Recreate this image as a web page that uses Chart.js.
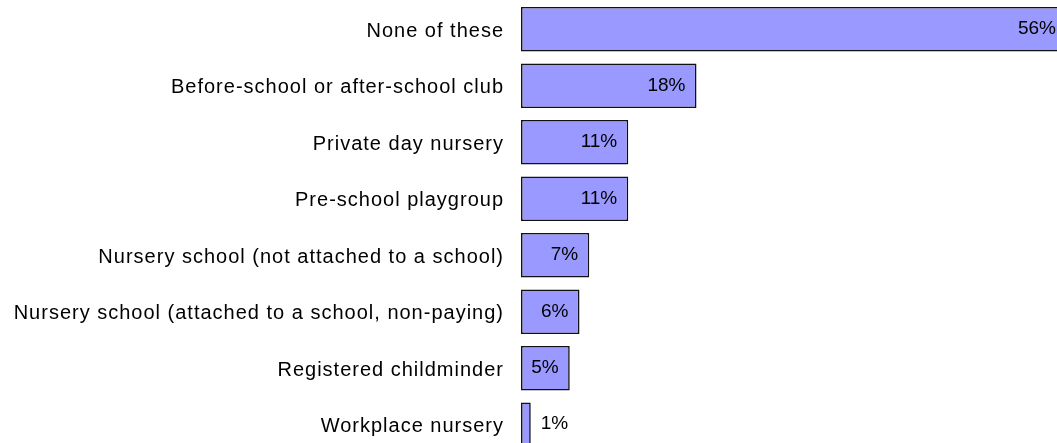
<!DOCTYPE html>
<html>
<head>
<meta charset="utf-8">
<script src="https://cdn.jsdelivr.net/npm/chart.js@4/dist/chart.umd.min.js"></script>
<style>
  html, body { margin: 0; padding: 0; background: #fff; overflow: hidden; }
  #wrap { width: 1057px; height: 443px; overflow: hidden; }
  canvas { display: block; }
</style>
</head>
<body>
<div id="wrap"><canvas id="chart" width="1067" height="453"></canvas></div>
<script>
// Childcare used, share of respondents (%)
const categories = [
  'None of these',
  'Before-school or after-school club',
  'Private day nursery',
  'Pre-school playgroup',
  'Nursery school (not attached to a school)',
  'Nursery school (attached to a school, non-paying)',
  'Registered childminder',
  'Workplace nursery'
];
const shares = [56, 18, 11, 11, 7, 6, 5, 1];
const shareLabels = shares.map(v => v + '%');

const FONT = '"Liberation Sans", Arial, sans-serif';

// Category labels are drawn with slightly open tracking
const tracking = {
  id: 'tracking',
  beforeDraw(chart) { chart.ctx.letterSpacing = '1px'; },
  afterDraw(chart) { chart.ctx.letterSpacing = '0px'; }
};

// Value labels: right-aligned inside the bar, or just past its end when it is too short
const valueLabels = {
  id: 'valueLabels',
  afterDatasetsDraw(chart) {
    const ctx = chart.ctx;
    const meta = chart.getDatasetMeta(0);
    ctx.save();
    ctx.letterSpacing = '0px';
    ctx.font = '19px ' + FONT;
    ctx.fillStyle = '#000';
    ctx.textBaseline = 'middle';
    meta.data.forEach((bar, i) => {
      const text = shareLabels[i];
      const w = ctx.measureText(text).width;
      const barW = bar.x - bar.base;
      if (w + 16 < barW) {
        ctx.textAlign = 'right';
        ctx.fillText(text, bar.x - 11, bar.y);
      } else {
        ctx.textAlign = 'left';
        ctx.fillText(text, bar.x + 10, bar.y - 1);
      }
    });
    ctx.restore();
  }
};

new Chart(document.getElementById('chart'), {
  type: 'bar',
  data: {
    labels: categories,
    datasets: [{
      data: shares,
      backgroundColor: '#9999ff',
      borderColor: '#111',
      borderWidth: 1.6,
      borderSkipped: false,
      barPercentage: 0.787,
      categoryPercentage: 1
    }]
  },
  options: {
    indexAxis: 'y',
    responsive: false,
    animation: false,
    devicePixelRatio: 1,
    layout: { padding: { top: 1, right: 0, bottom: 0, left: 0 } },
    plugins: {
      legend: { display: false },
      tooltip: { enabled: false }
    },
    scales: {
      x: {
        display: false,
        min: 0,
        max: 56
      },
      y: {
        grid: { display: false, drawTicks: false },
        border: { display: false },
        ticks: {
          color: '#000',
          padding: 17,
          labelOffset: 2,
          font: { family: FONT, size: 20 }
        },
        afterFit(scale) {
          scale.width = 521;
          scale.paddingTop = 0;
          scale.paddingBottom = 0;
        }
      }
    }
  },
  plugins: [tracking, valueLabels]
});
</script>
</body>
</html>
